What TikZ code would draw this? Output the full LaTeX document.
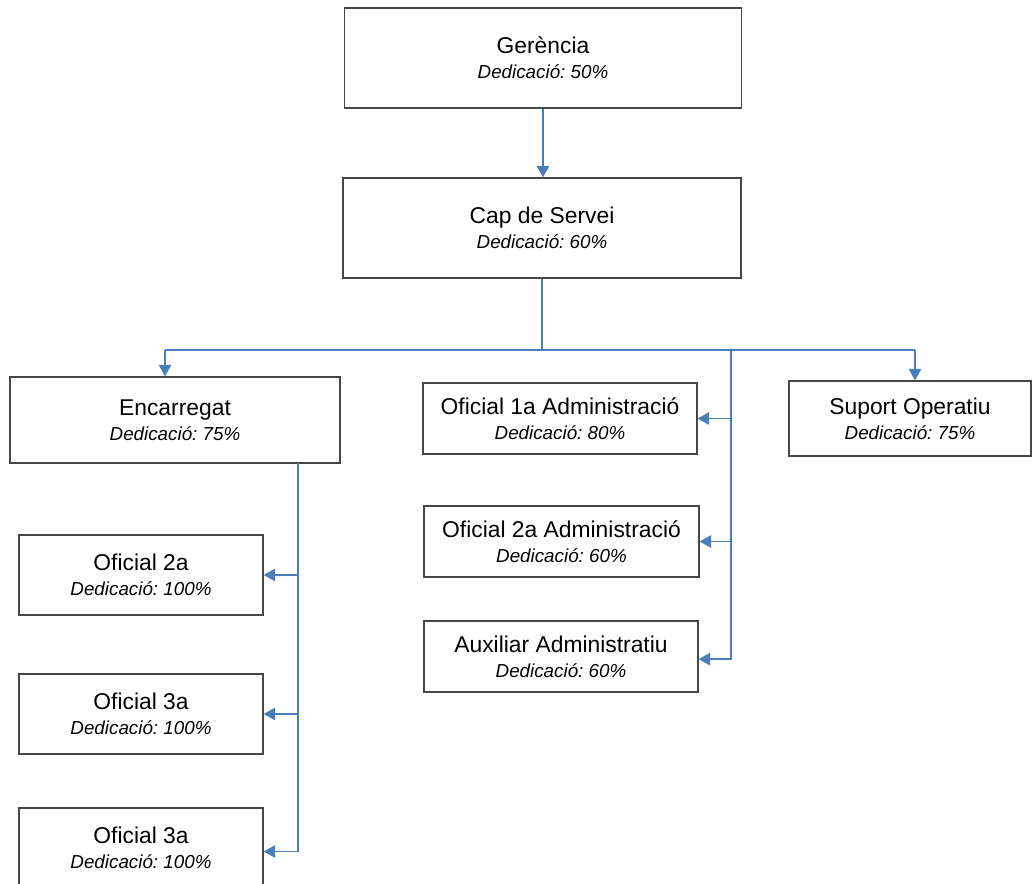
\documentclass[tikz,border=0pt]{standalone}
\usepackage{fontspec}
\setmainfont{Liberation Sans}
\usetikzlibrary{arrows.meta,positioning}
\frenchspacing

\definecolor{liniablava}{RGB}{74,126,187}
\newcommand{\carrec}[2]{{\fontsize{13}{14.4}\selectfont #1}\\{\fontsize{10.7}{14.4}\selectfont\itshape Dedicació: #2\%}}

\begin{document}
\begin{tikzpicture}[x=0.02cm,y=-0.02cm,>={Triangle[length=0.23cm,width=0.25cm]},
	                    font=\fontsize{13}{14.4}\selectfont]
		  \tikzset{box/.style={draw=black!72,line width=0.8pt,fill=white,text=black,align=center,inner sep=0pt},
		           lin/.style={draw=liniablava,line width=0.9pt},
		           fletxa/.style={lin,->}}
		  \useasboundingbox (0,0) rectangle (1035,883);

		  % nivell superior
		  \node[box,minimum width=7.94cm,minimum height=2cm] (ger) at (543,58)  {\carrec{Gerència}{50}};
		  \node[box,minimum width=7.96cm,minimum height=2cm] (cap) at (542,228) {\carrec{Cap de Servei}{60}};

		  % segon nivell
		  \node[box,minimum width=6.6cm,minimum height=1.72cm]  (enc)  at (175,420)   {\carrec{Encarregat}{75}};
		  \node[box,minimum width=5.48cm,minimum height=1.42cm] (of1)  at (560,418.5) {\carrec{Oficial 1a Administració}{80}};
		  \node[box,minimum width=4.84cm,minimum height=1.5cm]  (sup)  at (910,418.5) {\carrec{Suport Operatiu}{75}};

		  % administracio
		  \node[box,minimum width=5.5cm,minimum height=1.42cm]  (of2a) at (561.5,541.5) {\carrec{Oficial 2a Administració}{60}};
		  \node[box,minimum width=5.48cm,minimum height=1.42cm] (aux)  at (561,656.5)   {\carrec{Auxiliar Administratiu}{60}};

		  % brigada
		  \node[box,minimum width=4.88cm,minimum height=1.6cm] (o2)  at (141,575) {\carrec{Oficial 2a}{100}};
		  \node[box,minimum width=4.88cm,minimum height=1.6cm] (o3a) at (141,714) {\carrec{Oficial 3a}{100}};
		  \node[box,minimum width=4.88cm,minimum height=1.6cm] (o3b) at (141,848) {\carrec{Oficial 3a}{100}};

		  \coordinate (busE) at (165,350);
		  \coordinate (busD) at (915,350);
		  \coordinate (adm)  at (731,350);
		  \coordinate (brig) at (298,463);

		  \draw[fletxa] (ger.south) -- (ger.south |- cap.north);
		  \draw[lin] (cap.south) -- (cap.south |- busE);
		  \draw[lin] (busE) -- (busD);
		  \draw[fletxa] (busE) -- (busE |- enc.north);
		  \draw[fletxa] (busD) -- (busD |- sup.north);

		  \draw[fletxa] (adm) |- ([yshift=-1.5]aux.east);
		  \draw[fletxa] (adm |- of1.east) -- (of1.east);
		  \draw[fletxa] (adm |- of2a.east) -- (of2a.east);

		  \draw[fletxa] (brig) |- ([yshift=-2]o3b.east);
		  \draw[fletxa] (brig |- o2.east) -- (o2.east);
		  \draw[fletxa] (brig |- o3a.east) -- (o3a.east);
		\end{tikzpicture}
\end{document}
